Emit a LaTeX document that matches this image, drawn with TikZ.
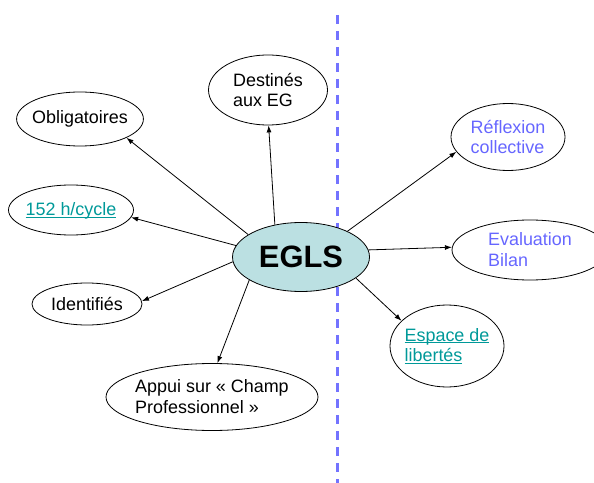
\documentclass[tikz,border=0pt]{standalone}
\usepackage{fontspec}
\setmainfont{Liberation Sans}
\usetikzlibrary{shapes.geometric,arrows.meta}
\definecolor{eglsfill}{HTML}{BBE0E2}
\definecolor{linkteal}{HTML}{009999}
\definecolor{lilac}{HTML}{6666FF}
\definecolor{divider}{HTML}{7373FF}
\newcommand\linkul[1]{\underline{\raisebox{0pt}[\height][0pt]{#1}}}
\begin{document}
\begin{tikzpicture}[x=1bp,y=-1bp,font=\fontsize{18}{21}\selectfont,
  bubble/.style={draw,ellipse,line width=0.8bp,inner sep=0pt,inner xsep=-3bp,align=left},
  arr/.style={line width=0.8bp,-{Latex[length=7bp,width=5bp]}}]
\useasboundingbox (0,0) rectangle (594,483);
\draw[divider,line width=2.5bp,dash pattern=on 9bp off 7bp] (337.5,15) -- (337.5,483);
\node[bubble,fill=eglsfill,minimum width=137bp,minimum height=69bp,font=\fontsize{31}{31}\selectfont\bfseries] (egls) at (301,257) {EGLS};
\node[bubble,minimum width=119bp,minimum height=70bp] (dest) at (268,90) {Destinés\\aux EG};
\node[bubble,minimum width=126bp,minimum height=54bp] (oblig) at (80,119) {Obligatoires};
\node[bubble,minimum width=125bp,minimum height=50bp,text=linkteal] (cycle) at (71,210) {\linkul{152 h/cycle}};
\node[bubble,minimum width=110bp,minimum height=42bp] (ident) at (87,304) {Identifiés};
\node[bubble,minimum width=212bp,minimum height=67bp] (appui) at (212,397) {Appui sur « Champ\\Professionnel »};
\node[bubble,minimum width=114bp,minimum height=67bp,text=lilac] (refl) at (508,137) {Réflexion\\collective};
\node[bubble,minimum width=156bp,minimum height=60bp,text=lilac] (eval) at (530,250) {Evaluation\\Bilan};
\node[bubble,minimum width=114bp,minimum height=82bp,text=linkteal] (espace) at (447,346) {\linkul{Espace de}\\\linkul{libertés}};
% fleches depuis le centre
\foreach \s/\t/\e in {129/dest/-89,157/oblig/-22,170/cycle/-7,184/ident/3,204/appui/81,29/refl/196,6/eval/178,-21/espace/151}
  \draw[arr] (egls.\s) -- (\t.\e);
\end{tikzpicture}
\end{document}
